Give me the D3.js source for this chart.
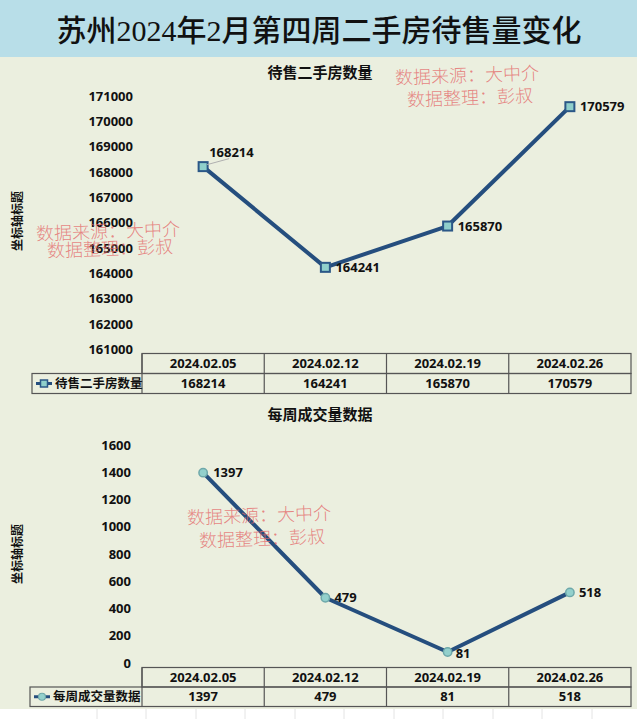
<!DOCTYPE html>
<html><head><meta charset="utf-8">
<script src="https://cdn.jsdelivr.net/npm/d3@7"></script>
<style>
html,body{margin:0;padding:0;background:#fff;}
svg{display:block;}
</style></head>
<body>
<script>
const pageTitle = "苏州2024年2月第四周二手房待售量变化";
const categories = ["2024.02.05","2024.02.12","2024.02.19","2024.02.26"];
const listingName = "待售二手房数量";
const listingValues = [168214,164241,165870,170579];
const listingTicks = [161000,162000,163000,164000,165000,166000,167000,168000,169000,170000,171000];
const dealName = "每周成交量数据";
const dealValues = [1397,479,81,518];
const dealTicks = [0,200,400,600,800,1000,1200,1400,1600];
const axisTitle = "坐标轴标题";
const wm1 = "数据来源：大中介", wm2 = "数据整理：彭叔";

const W=640,H=719;
const svg=d3.select("body").append("svg").attr("width",W).attr("height",H);
const BG="#ebefdf", LINE="#254e7e", FONT="'Noto Sans','Noto Sans CJK SC',sans-serif";

svg.append("rect").attr("width",W).attr("height",H).attr("fill","#ffffff");
svg.append("rect").attr("x",0).attr("y",0).attr("width",637).attr("height",709).attr("fill",BG);
svg.append("rect").attr("x",0).attr("y",0).attr("width",637).attr("height",57).attr("fill","#b8dee8");
// faint spreadsheet lines at bottom
[97,146,196,245,295,344,394,443,493,542,592].forEach(xv=>{
  svg.append("line").attr("x1",xv).attr("x2",xv).attr("y1",709).attr("y2",719).attr("stroke","#e4e4e4");
});
svg.append("text").attr("x",319).attr("y",41).attr("text-anchor","middle")
  .attr("font-family","'Liberation Serif','Noto Sans CJK SC',serif").attr("font-size",30).attr("font-weight",500)
  .attr("fill","#111").text(pageTitle);

const x=d3.scaleBand().domain(categories).range([142,631]);

function drawChart(cfg){
  const g=svg.append("g");
  const y=d3.scaleLinear().domain(cfg.domain).range(cfg.range);
  g.append("text").attr("x",320).attr("y",cfg.titleY).attr("text-anchor","middle")
    .attr("font-family",FONT).attr("font-weight","bold").attr("font-size",15).attr("fill","#111").text(cfg.name);
  const ax=g.append("g").attr("transform",`translate(${cfg.tickX},0)`)
    .call(d3.axisLeft(y).tickValues(cfg.ticks).tickSize(0).tickPadding(0).tickFormat(d3.format("d")));
  ax.select(".domain").remove();
  ax.selectAll("text").attr("font-family",FONT).attr("font-weight","bold").attr("font-size",13).attr("fill","#111");
  g.append("text").attr("transform",`translate(22,${cfg.axisTitleY}) rotate(-90)`).attr("text-anchor","middle")
    .attr("font-family",FONT).attr("font-weight","bold").attr("font-size",12).attr("fill","#111").text(axisTitle);

  const pts=cfg.values.map((v,i)=>({c:categories[i],v:v,px:x(categories[i])+x.bandwidth()/2,py:y(v)}));
  g.append("path").datum(pts).attr("fill","none").attr("stroke",LINE).attr("stroke-width",4).attr("stroke-linejoin","round")
    .attr("d",d3.line().x(d=>d.px).y(d=>d.py));
  if(cfg.marker==="square"){
    g.selectAll("rect.m").data(pts).enter().append("rect").attr("x",d=>d.px-4.5).attr("y",d=>d.py-4.5)
      .attr("width",9).attr("height",9).attr("fill","#8fcfcb").attr("stroke","#2b5787").attr("stroke-width",2);
  } else {
    g.selectAll("circle.m").data(pts).enter().append("circle").attr("cx",d=>d.px).attr("cy",d=>d.py)
      .attr("r",4.2).attr("fill","#93d0cc").attr("stroke","#6ea8aa").attr("stroke-width",1.5);
  }
  pts.forEach((d,i)=>{
    const off=cfg.labelOff[i];
    if(off.leader){
      g.append("line").attr("x1",d.px+4).attr("y1",d.py-2).attr("x2",d.px+off.dx+20).attr("y2",d.py+off.dy+6)
        .attr("stroke","#b0b0b0").attr("stroke-width",1);
    }
    g.append("text").attr("x",d.px+off.dx).attr("y",d.py+off.dy).attr("dy","0.35em")
      .attr("font-family",FONT).attr("font-weight","bold").attr("font-size",13).attr("fill","#111").text(d.v);
  });

  // data table
  const t=cfg.tableY, rh=cfg.rowH;
  const tg=g.append("g").attr("stroke","#555").attr("stroke-width",1.2).attr("fill","none");
  tg.append("rect").attr("x",142).attr("y",t).attr("width",489).attr("height",rh);
  tg.append("rect").attr("x",cfg.legendX).attr("y",t+rh).attr("width",631-cfg.legendX).attr("height",rh);
  categories.forEach(c=>{
    tg.append("line").attr("x1",x(c)).attr("x2",x(c)).attr("y1",t).attr("y2",t+2*rh);
  });
  categories.forEach((c,i)=>{
    const cx=x(c)+x.bandwidth()/2;
    g.append("text").attr("x",cx).attr("y",t+rh/2).attr("dy","0.35em").attr("text-anchor","middle")
      .attr("font-family",FONT).attr("font-weight","bold").attr("font-size",13).attr("fill","#111").text(c);
    g.append("text").attr("x",cx).attr("y",t+rh*1.5).attr("dy","0.35em").attr("text-anchor","middle")
      .attr("font-family",FONT).attr("font-weight","bold").attr("font-size",13).attr("fill","#111").text(cfg.values[i]);
  });
  const ly=t+rh*1.5, lx=cfg.legendX+4;
  g.append("line").attr("x1",lx).attr("x2",lx+16).attr("y1",ly).attr("y2",ly).attr("stroke",LINE).attr("stroke-width",3);
  if(cfg.marker==="square"){
    g.append("rect").attr("x",lx+4.5).attr("y",ly-3.5).attr("width",7).attr("height",7).attr("fill","#8fcfcb").attr("stroke","#2b5787").attr("stroke-width",1.5);
  } else {
    g.append("circle").attr("cx",lx+8).attr("cy",ly).attr("r",3.5).attr("fill","#93d0cc").attr("stroke","#6ea8aa").attr("stroke-width",1.2);
  }
  g.append("text").attr("x",lx+19).attr("y",ly).attr("dy","0.35em")
    .attr("font-family",FONT).attr("font-weight","bold").attr("font-size",12.5).attr("fill","#111").text(cfg.name);
}

drawChart({name:listingName,values:listingValues,ticks:listingTicks,domain:[161000,171000],range:[349.5,96],
  titleY:78,tickX:133,axisTitleY:221,marker:"square",tableY:353.5,rowH:20,legendX:32,
  labelOff:[{dx:6,dy:-14,leader:true},{dx:10,dy:0},{dx:10,dy:0},{dx:10,dy:0}]});
drawChart({name:dealName,values:dealValues,ticks:dealTicks,domain:[0,1600],range:[663,445],
  titleY:420,tickX:131,axisTitleY:554,marker:"circle",tableY:667.5,rowH:19.5,legendX:30,
  labelOff:[{dx:10,dy:0},{dx:9,dy:0},{dx:8,dy:1},{dx:9,dy:0}]});

// watermarks
function wm(x1,y1,x2,y2){
  [[wm1,x1,y1],[wm2,x2,y2]].forEach(([s,xx,yy])=>{
    svg.append("text").attr("x",xx).attr("y",yy).attr("dy","0.35em")
      .attr("transform",`rotate(-2,${xx},${yy})`)
      .attr("font-family","'Noto Sans CJK SC',serif").attr("font-size",18).attr("font-weight",300)
      .attr("fill","#e46a6a").attr("fill-opacity",0.8).text(s);
  });
}
wm(395,78,407,100);
wm(36,234,47,251);
wm(187,518,199,541);
</script>
</body></html>
